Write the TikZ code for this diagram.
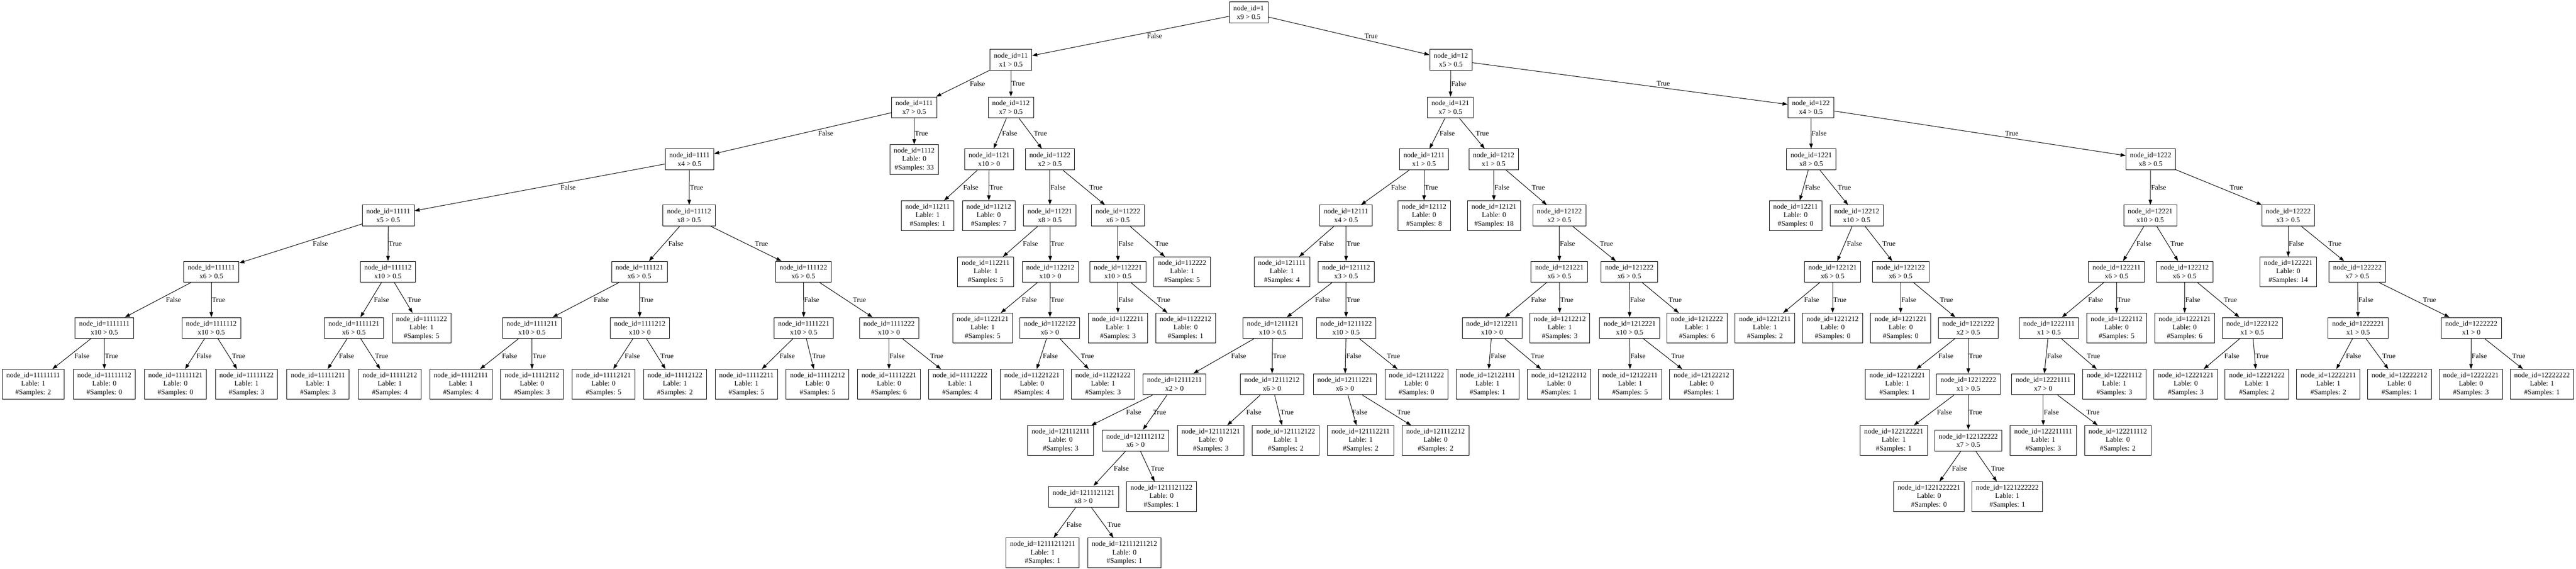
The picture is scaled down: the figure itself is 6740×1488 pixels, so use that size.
\documentclass[tikz,border=0pt]{standalone}
\usepackage{fontspec}
\setmainfont{Liberation Serif}
\usetikzlibrary{arrows.meta,calc}

\tikzset{
  split/.style={draw, line width=1pt, rectangle, align=center,
    font=\fontsize{14}{16.8}\selectfont, inner xsep=7.92pt, inner ysep=0pt,
    minimum width=54pt, minimum height=41.3pt},
  leaf/.style={split, minimum height=58.3pt},
  edge/.style={line width=1pt, -{Triangle[length=10pt,width=7pt]}},
  lbl/.style={font=\fontsize{14}{16.8}\selectfont, inner sep=0pt, anchor=west, xshift=1pt}
}

\begin{document}
\begin{tikzpicture}[x=0.75pt, y=-0.75pt]
    \fill[white] (0,0) rectangle (6740,1488);

    % Rank 0 to 2
    \node[split] (n1) at (3267,32.5) {node\_id=1\\x9 > 0.5};
    \foreach \id/\x/\cond in {11/2645/x1 > 0.5, 12/3796/x5 > 0.5}
        \node[split] (n\id) at (\x,156.5) {node\_id=\id\\\cond};
    \foreach \id/\x/\cond in {111/2392/x7 > 0.5, 112/2645/x7 > 0.5, 121/3795/x7 > 0.5, 122/4738/x4 > 0.5}
        \node[split] (n\id) at (\x,281) {node\_id=\id\\\cond};

    % Rank 3
    \foreach \id/\x/\cond in {1111/1804/x4 > 0.5, 1121/2588/x10 > 0, 1122/2747/x2 > 0.5,
        1211/3726/x1 > 0.5, 1212/3908/x1 > 0.5, 1221/4739/x8 > 0.5, 1222/5627/x8 > 0.5}
        \node[split] (n\id) at (\x,417) {node\_id=\id\\\cond};
    \foreach \id/\x/\lab/\num in {1112/2392/0/33}
        \node[leaf] (n\id) at (\x,417) {node\_id=\id\\Lable: \lab\\\#Samples: \num};

    % Rank 4
    \foreach \id/\x/\cond in {11111/1016/x5 > 0.5, 11112/1803/x8 > 0.5, 11221/2747/x8 > 0.5,
        11222/2925/x6 > 0.5, 12111/3522/x4 > 0.5, 12122/4080/x2 > 0.5, 12212/4858/x10 > 0.5,
        12221/5626/x10 > 0.5, 12222/5987/x3 > 0.5}
        \node[split] (n\id) at (\x,564) {node\_id=\id\\\cond};
    \foreach \id/\x/\lab/\num in {11211/2427/1/1, 11212/2587/0/7, 12112/3726/0/8,
        12121/3909/0/18, 12211/4698/0/0}
        \node[leaf] (n\id) at (\x,564) {node\_id=\id\\Lable: \lab\\\#Samples: \num};

    % Rank 5
    \foreach \id/\x/\cond in {111111/553/x6 > 0.5, 111112/1015/x10 > 0.5, 111121/1673/x6 > 0.5,
        111122/2102/x6 > 0.5, 112212/2748/x10 > 0, 112221/2925/x10 > 0.5, 121112/3522/x3 > 0.5,
        121221/4080/x6 > 0.5, 121222/4263/x6 > 0.5, 122121/4795/x6 > 0.5, 122122/4973/x6 > 0.5,
        122211/5538/x6 > 0.5, 122212/5716/x6 > 0.5, 122222/6168/x7 > 0.5}
        \node[split] (n\id) at (\x,711) {node\_id=\id\\\cond};
    \foreach \id/\x/\lab/\num in {112211/2579/1/5, 112222/3093/1/5, 121111/3354/1/4, 122221/5987/0/14}
        \node[leaf] (n\id) at (\x,711) {node\_id=\id\\Lable: \lab\\\#Samples: \num};

    % Rank 6
    \foreach \id/\x/\cond in {1111111/273/x10 > 0.5, 1111112/553/x10 > 0.5, 1111121/926/x6 > 0.5,
        1111211/1392/x10 > 0.5, 1111212/1674/x10 > 0, 1111221/2103/x10 > 0.5, 1111222/2326/x10 > 0,
        1122122/2747/x6 > 0, 1211121/3330/x10 > 0.5, 1211122/3522/x10 > 0.5, 1212211/3904/x10 > 0,
        1212221/4264/x10 > 0.5, 1221222/5150/x2 > 0.5, 1222111/5361/x1 > 0.5, 1222122/5893/x1 > 0.5,
        1222221/6170/x1 > 0.5, 1222222/6466/x1 > 0}
        \node[split] (n\id) at (\x,858) {node\_id=\id\\\cond};
    \foreach \id/\x/\lab/\num in {1111122/1103/1/5, 1122121/2571/1/5, 1122211/2925/1/3,
        1122212/3102/0/1, 1212212/4081/1/3, 1212222/4440/1/6, 1221211/4618/1/2, 1221212/4795/0/0,
        1221221/4973/0/0, 1222112/5538/0/5, 1222121/5716/0/6}
        \node[leaf] (n\id) at (\x,858) {node\_id=\id\\Lable: \lab\\\#Samples: \num};

    % Rank 7
    \foreach \id/\x/\cond in {12111211/3073/x2 > 0, 12111212/3328/x6 > 0, 12111221/3519/x6 > 0,
        12212222/5150/x1 > 0.5, 12221111/5346/x7 > 0}
        \node[split] (n\id) at (\x,1005) {node\_id=\id\\\cond};
    \foreach \id/\x/\lab/\num in {11111111/87/1/2, 11111112/273/0/0, 11111121/459/0/0,
        11111122/645/1/3, 11111211/832/1/3, 11111212/1020/1/4, 11112111/1206/1/4, 11112112/1392/0/3,
        11112121/1579/0/5, 11112122/1766/1/2, 11112211/1953/1/5, 11112212/2139/0/5,
        11112221/2326/0/6, 11112222/2512/1/4, 11221221/2700/0/4, 11221222/2886/1/3,
        12111222/3706/0/0, 12122111/3892/1/1, 12122112/4079/0/1, 12122211/4265/1/5,
        12122212/4452/0/1, 12212221/4964/1/1, 12221112/5532/1/3, 12221221/5719/0/3,
        12221222/5905/1/2, 12222211/6092/1/2, 12222212/6278/0/1, 12222221/6465/0/3,
        12222222/6651/1/1}
        \node[leaf] (n\id) at (\x,1005) {node\_id=\id\\Lable: \lab\\\#Samples: \num};

    % Rank 8 to 10
    \foreach \id/\x/\cond in {121112112/2971/x6 > 0, 122122222/5150/x7 > 0.5}
        \node[split] (n\id) at (\x,1152) {node\_id=\id\\\cond};
    \foreach \id/\x/\lab/\num in {121112111/2775/0/3, 121112121/3168/0/3, 121112122/3364/1/2,
        121112211/3560/1/2, 121112212/3756/0/2, 122122221/4955/1/1, 122211111/5346/1/3,
        122211112/5541/0/2}
        \node[leaf] (n\id) at (\x,1152) {node\_id=\id\\Lable: \lab\\\#Samples: \num};
    \node[split] (n1211121121) at (2835,1299) {node\_id=1211121121\\x8 > 0};
    \foreach \id/\x/\lab/\num in {1211121122/3039/0/1, 1221222221/5047/0/0, 1221222222/5252/1/1}
        \node[leaf] (n\id) at (\x,1299) {node\_id=\id\\Lable: \lab\\\#Samples: \num};
    \foreach \id/\x/\lab/\num in {12111211211/2728/1/1, 12111211212/2942/0/1}
        \node[leaf] (n\id) at (\x,1446) {node\_id=\id\\Lable: \lab\\\#Samples: \num};

    % Edges: child 1 is False, child 2 is True
    \foreach \id in {1, 11, 12, 111, 112, 121, 122, 1111, 1121, 1122, 1211, 1212, 1221, 1222,
        11111, 11112, 11221, 11222, 12111, 12122, 12212, 12221, 12222,
        111111, 111112, 111121, 111122, 112212, 112221, 121112, 121221, 121222,
        122121, 122122, 122211, 122212, 122222,
        1111111, 1111112, 1111121, 1111211, 1111212, 1111221, 1111222, 1122122,
        1211121, 1211122, 1212211, 1212221, 1221222, 1222111, 1222122, 1222221, 1222222,
        12111211, 12111212, 12111221, 12212222, 12221111,
        121112112, 122122222, 1211121121}
        \foreach \side/\rat/\txt in {1/0.43/False, 2/0.57/True} {
            \draw[edge] (n\id) -- (n\id\side);
            \coordinate (m) at ($(n\id)!0.5!(n\id\side)$);
            \coordinate (q) at ($(n\id)!\rat!(n\id\side)$);
            \node[lbl] at (q |- m) {\txt};
        }
\end{tikzpicture}
\end{document}
